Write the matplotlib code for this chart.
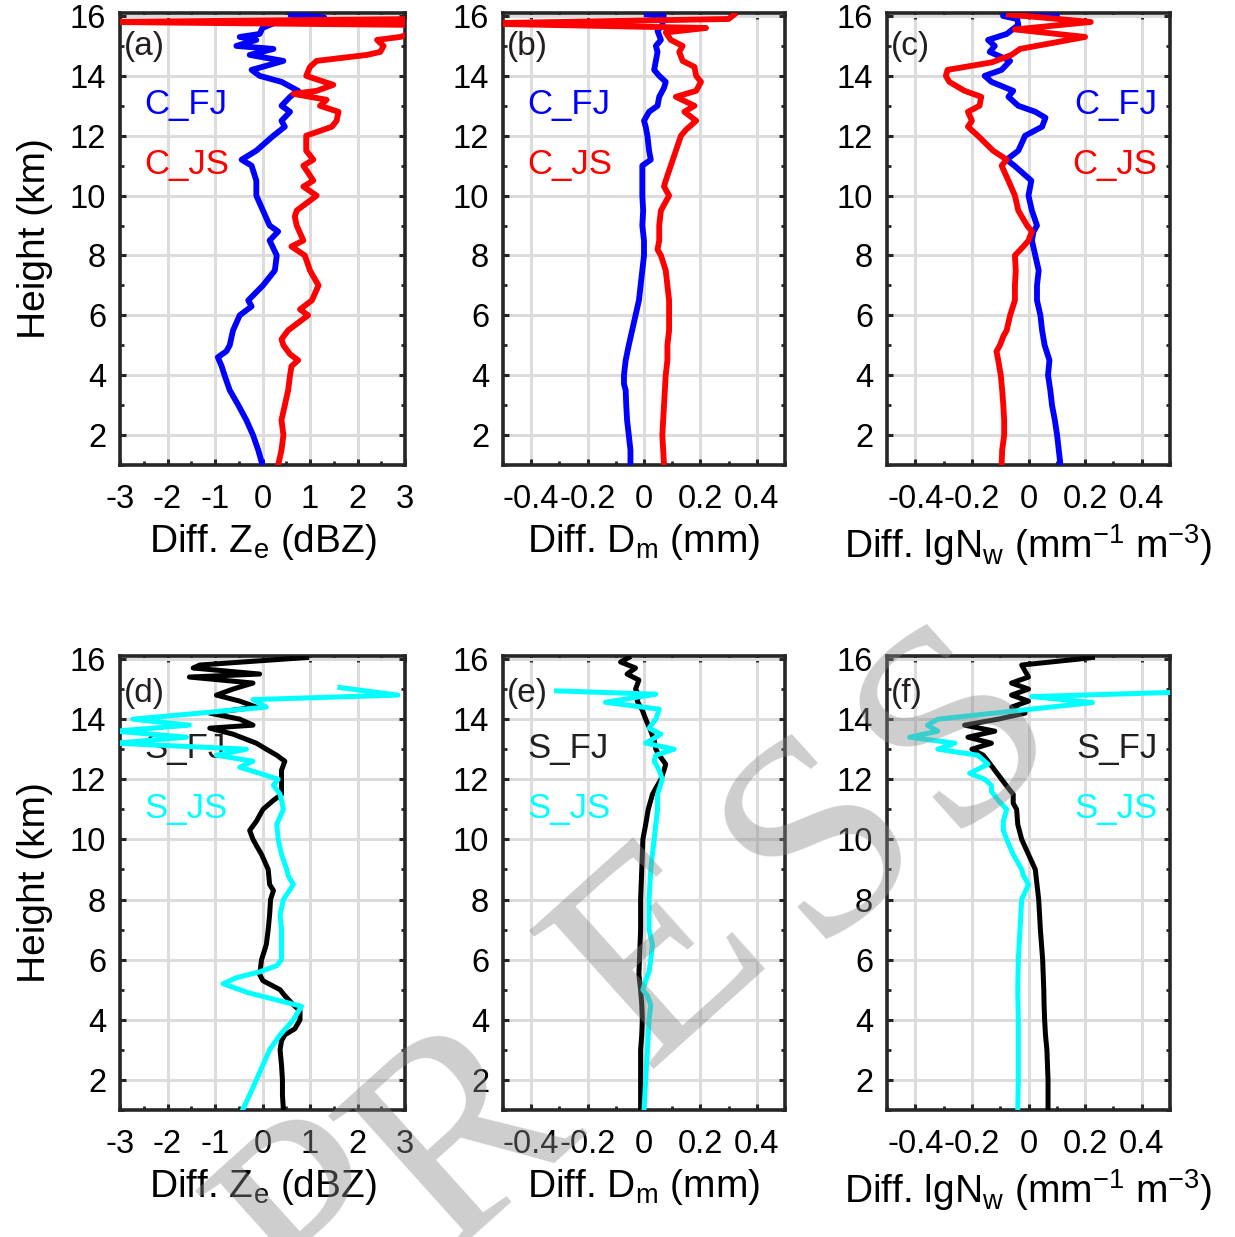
import numpy as np
import matplotlib
matplotlib.use('Agg')
import matplotlib.pyplot as plt
from matplotlib.ticker import MultipleLocator

plt.rcParams['font.family'] = ['Liberation Sans', 'DejaVu Sans']
plt.rcParams['axes.unicode_minus'] = False
plt.rcParams['mathtext.default'] = 'regular'

# ---- data: height (km) and difference profiles ----
# (a) Ze, convective
ze_cfj_h = [1.0, 1.5, 2.0, 2.5, 3.0, 3.5, 4.0, 4.3, 4.6, 4.8, 5.0, 5.5, 6.0, 6.3, 6.5, 7.0, 7.5, 8.0, 8.5, 8.8,
            9.0, 9.5, 10.0, 10.5, 11.0, 11.2, 11.5, 12.0, 12.3, 12.5, 12.8, 13.0, 13.3, 13.5, 13.8, 14.0, 14.2, 14.3, 14.5, 14.7,
            14.9, 15.0, 15.2, 15.3, 15.4, 15.6, 15.8, 15.95, 16.05]
ze_cfj = [0.0, -0.09, -0.2, -0.34, -0.51, -0.69, -0.8, -0.86, -0.94, -0.76, -0.69, -0.62, -0.48, -0.23, -0.3, 0.01, 0.26, 0.3, 0.15, 0.33,
          0.15, 0.01, -0.13, -0.13, -0.23, -0.44, -0.13, 0.23, 0.47, 0.4, 0.58, 0.4, 0.58, 0.75, 0.4, -0.06, -0.23, 0.0, 0.44, -0.27,
          0.23, -0.55, -0.13, -0.48, -0.06, 0.0, 0.3, 1.3, 0.6]
ze_cjs_h = [1.0, 1.5, 2.0, 2.5, 3.0, 3.5, 4.0, 4.3, 4.5, 4.7, 5.0, 5.2, 5.5, 6.0, 6.2, 6.5, 7.0, 7.3, 7.5, 8.0,
            8.3, 8.5, 9.0, 9.3, 9.5, 10.0, 10.3, 10.5, 11.0, 11.2, 11.5, 12.0, 12.3, 12.5, 12.8, 13.0, 13.2, 13.4, 13.5, 13.7,
            14.0, 14.3, 14.5, 14.7, 14.8, 15.0, 15.2, 15.3, 15.5, 15.7, 15.8, 15.9, 16.0]
ze_cjs = [0.33, 0.4, 0.44, 0.4, 0.47, 0.54, 0.58, 0.61, 0.75, 0.58, 0.44, 0.4, 0.54, 0.96, 0.79, 1.04, 1.18, 1.07, 1.0, 0.89,
          0.61, 0.86, 0.72, 0.68, 0.72, 1.14, 0.86, 1.07, 0.86, 1.07, 0.92, 0.92, 1.46, 1.56, 1.6, 1.21, 1.35, 0.65, 1.14, 1.49,
          0.92, 1.0, 1.14, 2.2, 2.48, 2.55, 2.41, 2.9, 3.3, 3.3, -3.3, 3.3, 3.3]

# (b) Dm, convective
dm_cfj_h = [1.0, 1.5, 2.0, 2.5, 3.0, 3.5, 3.7, 4.0, 4.5, 5.0, 5.5, 6.0, 6.5, 7.0, 7.5, 8.0, 8.5, 9.0, 9.5, 10.0,
            10.5, 11.0, 11.2, 11.5, 12.0, 12.3, 12.5, 12.8, 13.0, 13.3, 13.6, 13.8, 14.0, 14.2, 14.5, 14.8, 15.0, 15.2, 15.5, 15.7,
            16.0, 16.05]
dm_cfj = [-0.048, -0.048, -0.054, -0.06, -0.063, -0.065, -0.071, -0.071, -0.065, -0.054, -0.042, -0.03, -0.018, -0.012, -0.006, 0.0, 0.0, -0.006, -0.003, -0.006,
          -0.006, -0.006, 0.024, 0.018, 0.012, 0.006, 0.0, 0.018, 0.048, 0.054, 0.071, 0.077, 0.054, 0.036, 0.042, 0.048, 0.042, 0.06, 0.048, 0.065,
          0.07, 0.01]
dm_cjs_h = [1.0, 1.5, 2.0, 3.0, 4.0, 4.5, 5.0, 5.5, 6.0, 6.5, 7.0, 7.5, 8.0, 8.2, 8.5, 9.0, 9.5, 10.0, 10.3, 10.5,
            11.0, 11.5, 12.0, 12.2, 12.5, 12.8, 13.0, 13.3, 13.5, 13.8, 14.0, 14.3, 14.5, 14.8, 15.0, 15.2, 15.45, 15.6, 15.75, 15.9,
            16.05]
dm_cjs = [0.071, 0.068, 0.065, 0.071, 0.077, 0.083, 0.083, 0.089, 0.089, 0.089, 0.083, 0.077, 0.06, 0.048, 0.054, 0.054, 0.06, 0.089, 0.071, 0.077,
          0.095, 0.113, 0.131, 0.149, 0.185, 0.143, 0.179, 0.113, 0.185, 0.202, 0.185, 0.179, 0.137, 0.125, 0.137, 0.095, 0.077, 0.22, -0.6, 0.3,
          0.32]

# (c) lgNw, convective
nw_cfj_h = [1.0, 1.5, 2.0, 2.5, 3.0, 3.5, 4.0, 4.5, 5.0, 5.5, 6.0, 6.5, 7.0, 7.5, 8.0, 8.5, 8.8, 9.0, 9.5, 10.0,
            10.5, 11.0, 11.2, 11.5, 12.0, 12.3, 12.6, 12.8, 13.0, 13.3, 13.5, 13.8, 14.0, 14.2, 14.5, 14.8, 15.0, 15.2, 15.4, 15.7,
            15.9, 16.0, 16.05]
nw_cfj = [0.113, 0.107, 0.101, 0.093, 0.083, 0.077, 0.069, 0.074, 0.057, 0.048, 0.042, 0.03, 0.03, 0.036, 0.024, 0.012, 0.018, 0.03, 0.012, 0.0,
          0.01, -0.05, -0.077, -0.036, -0.012, 0.048, 0.06, 0.024, -0.036, -0.071, -0.054, -0.131, -0.155, -0.095, -0.065, -0.137, -0.119, -0.143, -0.077, -0.036,
          -0.04, -0.09, 0.1]
nw_cjs_h = [1.0, 1.5, 2.0, 2.5, 3.0, 3.5, 4.0, 4.5, 4.8, 5.0, 5.3, 5.5, 6.0, 6.5, 7.0, 7.5, 8.0, 8.3, 8.5, 8.8,
            9.0, 9.5, 10.0, 10.5, 11.0, 11.2, 11.5, 12.0, 12.3, 12.5, 12.8, 13.0, 13.3, 13.5, 13.8, 14.0, 14.2, 14.45, 14.7, 14.9,
            15.3, 15.55, 15.8, 16.05]
nw_cjs = [-0.095, -0.093, -0.086, -0.086, -0.089, -0.093, -0.098, -0.107, -0.113, -0.101, -0.089, -0.077, -0.065, -0.048, -0.048, -0.045, -0.048, -0.018, 0.0, 0.012,
          -0.005, -0.036, -0.048, -0.071, -0.095, -0.077, -0.125, -0.179, -0.214, -0.2, -0.214, -0.173, -0.167, -0.226, -0.28, -0.292, -0.286, -0.13, -0.06, -0.03,
          0.2, -0.048, 0.22, -0.07]

# (d) Ze, stratiform
ze_sfj_h = [1.0, 1.5, 2.0, 2.5, 3.0, 3.3, 3.5, 3.7, 4.0, 4.3, 4.5, 4.8, 5.0, 5.3, 5.5, 6.0, 6.5, 7.0, 7.5, 8.0,
            8.3, 8.5, 9.0, 9.5, 9.8, 10.0, 10.3, 10.6, 11.0, 11.3, 11.5, 12.0, 12.3, 12.6, 12.8, 13.0, 13.2, 13.5, 13.7, 13.8,
            14.0, 14.2, 14.4, 14.6, 14.8, 15.0, 15.2, 15.4, 15.5, 15.7, 15.8, 16.05]
ze_sfj = [0.44, 0.42, 0.42, 0.4, 0.37, 0.4, 0.47, 0.68, 0.79, 0.79, 0.65, 0.47, 0.37, 0.01, -0.06, -0.02, 0.08, 0.12, 0.15, 0.17,
          0.23, 0.15, 0.12, -0.02, -0.13, -0.2, -0.27, -0.13, 0.01, 0.23, 0.4, 0.4, 0.4, 0.47, 0.3, 0.08, -0.13, -0.62, -1.11, -0.2,
          -0.48, -1.11, -0.13, -0.48, -0.97, -0.62, -0.2, -1.54, -0.06, -1.46, -1.32, 0.93]
ze_sjs_h = [1.0, 1.5, 2.0, 2.5, 3.0, 3.5, 4.0, 4.45, 4.9, 5.2, 5.4, 5.6, 5.8, 6.0, 6.5, 7.0, 7.5, 8.0, 8.5, 8.8,
            9.0, 9.5, 10.0, 10.5, 11.0, 11.3, 11.5, 11.8, 12.0, 12.2, 12.4, 12.6, 12.8, 13.0, 13.2, 13.4, 13.6, 13.8, 14.0, 14.2,
            14.4, 14.65, 14.8, 15.05]
ze_sjs = [-0.42, -0.27, -0.13, 0.01, 0.15, 0.37, 0.65, 0.82, -0.3, -0.83, -0.55, -0.05, 0.3, 0.4, 0.4, 0.4, 0.37, 0.44, 0.65, 0.54,
          0.51, 0.4, 0.33, 0.3, 0.44, 0.4, 0.37, 0.23, 0.33, -0.06, -0.48, -0.2, -0.97, -0.34, -3.1, -1.6, -3.1, -1.54, -2.73, -1.32,
          0.08, -0.2, 2.85, 1.63]

# (e) Dm, stratiform
dm_sfj_h = [1.0, 2.0, 3.0, 3.5, 4.0, 4.5, 5.0, 5.5, 6.0, 7.0, 8.0, 9.0, 9.5, 10.0, 10.5, 11.0, 11.5, 11.8, 12.0, 12.3,
            12.5, 12.8, 13.0, 13.3, 13.6, 14.0, 14.3, 14.6, 14.8, 15.0, 15.3, 15.5, 15.7, 15.9, 16.05]
dm_sfj = [-0.012, -0.012, -0.012, -0.008, -0.006, -0.008, -0.012, -0.018, -0.016, -0.012, -0.012, -0.008, -0.006, -0.004, 0.006, 0.015, 0.03, 0.048, 0.06, 0.071,
          0.077, 0.054, 0.042, 0.036, 0.024, 0.006, -0.006, -0.024, -0.018, -0.03, -0.018, -0.06, -0.03, -0.083, -0.054]
dm_sjs_h = [1.0, 2.0, 3.0, 4.0, 4.5, 4.8, 5.0, 5.3, 5.6, 6.0, 6.5, 7.0, 8.0, 9.0, 10.0, 10.5, 11.0, 11.5, 12.0, 12.3,
            12.6, 12.8, 13.0, 13.2, 13.5, 13.7, 14.0, 14.33, 14.56, 14.83, 14.94]
dm_sjs = [0.0, 0.006, 0.012, 0.018, 0.024, 0.012, -0.004, 0.006, 0.018, 0.024, 0.03, 0.018, 0.018, 0.024, 0.036, 0.042, 0.048, 0.048, 0.065, 0.054,
          0.036, 0.042, 0.107, 0.006, 0.06, 0.018, 0.042, 0.054, -0.137, 0.042, -0.31]

# (f) lgNw, stratiform
nw_sfj_h = [1.0, 1.5, 2.0, 3.0, 3.5, 4.0, 4.5, 5.0, 6.0, 7.0, 8.0, 8.5, 9.0, 9.5, 10.0, 10.5, 11.0, 11.2, 11.5, 11.7,
            12.0, 12.3, 12.6, 12.8, 13.0, 13.2, 13.4, 13.6, 13.8, 14.0, 14.2, 14.4, 14.6, 14.8, 15.0, 15.2, 15.4, 15.6, 15.8, 16.0,
            16.05]
nw_sfj = [0.069, 0.069, 0.069, 0.065, 0.06, 0.057, 0.055, 0.054, 0.05, 0.042, 0.036, 0.03, 0.024, 0.0, -0.024, -0.038, -0.042, -0.054, -0.054, -0.071,
          -0.095, -0.119, -0.143, -0.16, -0.2, -0.131, -0.214, -0.119, -0.226, -0.107, -0.012, -0.06, 0.0, -0.06, 0.0, -0.06, 0.0, -0.012, -0.024, 0.18,
          0.226]
nw_sjs_h = [1.0, 2.0, 3.0, 4.0, 5.0, 6.0, 7.0, 8.0, 8.5, 8.8, 9.0, 9.5, 10.0, 10.3, 10.6, 11.0, 11.3, 11.6, 11.8, 12.0,
            12.2, 12.5, 12.8, 13.0, 13.2, 13.4, 13.6, 13.8, 14.0, 14.55, 14.75, 14.9]
nw_sjs = [-0.038, -0.036, -0.036, -0.036, -0.038, -0.036, -0.03, -0.024, 0.0, -0.018, -0.024, -0.054, -0.077, -0.089, -0.089, -0.077, -0.107, -0.131, -0.131, -0.155,
          -0.208, -0.143, -0.179, -0.32, -0.26, -0.42, -0.32, -0.357, -0.32, 0.226, 0.012, 0.55]

panel_tags = ['(a)', '(b)', '(c)', '(d)', '(e)', '(f)']
xlabels = [r'Diff. Z$_{e}$ (dBZ)', r'Diff. D$_{m}$ (mm)', r'Diff. lgN$_{w}$ (mm$^{-1}$ m$^{-3}$)']
height_ticks = [2, 4, 6, 8, 10, 12, 14, 16]
ze_ticks = [-3, -2, -1, 0, 1, 2, 3]
small_ticks = [-0.4, -0.2, 0, 0.2, 0.4]
small_ticklabels = ['-0.4', '-0.2', '0', '0.2', '0.4']

W, H = 1235, 1237
fig = plt.figure(figsize=(W / 100, H / 100), dpi=100)

col_left = [120, 503, 887]
col_width = [285, 282, 283]
row_top = [13, 656]
row_bottom = [465, 1110]

panels = [
    (ze_cfj_h, ze_cfj, ze_cjs_h, ze_cjs, 'C'),
    (dm_cfj_h, dm_cfj, dm_cjs_h, dm_cjs, 'C'),
    (nw_cfj_h, nw_cfj, nw_cjs_h, nw_cjs, 'C'),
    (ze_sfj_h, ze_sfj, ze_sjs_h, ze_sjs, 'S'),
    (dm_sfj_h, dm_sfj, dm_sjs_h, dm_sjs, 'S'),
    (nw_sfj_h, nw_sfj, nw_sjs_h, nw_sjs, 'S'),
]

dark = '#231f20'
for i, (h1, v1, h2, v2, kind) in enumerate(panels):
    r, c = divmod(i, 3)
    left = col_left[c] / W
    bottom = 1 - row_bottom[r] / H
    ax = fig.add_axes([left, bottom, col_width[c] / W, (row_bottom[r] - row_top[r]) / H])
    if kind == 'C':
        col1, col2, lw = '#0000ff', '#ff0000', 4.2
        name1, name2 = 'C_FJ', 'C_JS'
        tcol1, tcol2 = '#0000ff', '#ff0000'
    else:
        col1, col2, lw = '#000000', '#00ffff', 3.6
        name1, name2 = 'S_FJ', 'S_JS'
        tcol1, tcol2 = dark, '#00ffff'
    ax.plot(v1, h1, color=col1, lw=lw, zorder=3, solid_joinstyle='round')
    ax.plot(v2, h2, color=col2, lw=lw, zorder=3, solid_joinstyle='round')

    ax.set_ylim(1, 16.1)
    ax.set_yticks(height_ticks)
    ax.yaxis.set_minor_locator(MultipleLocator(1))
    if c == 0:
        ax.set_xlim(-3, 3)
        ax.set_xticks(ze_ticks)
        ax.xaxis.set_minor_locator(MultipleLocator(0.5))
        ax.set_ylabel('Height (km)', fontsize=28, labelpad=12)
    else:
        ax.set_xlim(-0.5, 0.5)
        ax.set_xticks(small_ticks)
        ax.set_xticklabels(small_ticklabels)
        ax.xaxis.set_minor_locator(MultipleLocator(0.1))
    ax.set_xlabel(xlabels[c], fontsize=28, labelpad=5)

    ax.set_axisbelow(True)
    ax.grid(True, which='major', color='#dcdcdc', lw=2.2)
    for sp in ax.spines.values():
        sp.set_linewidth(2.6)
        sp.set_color('#262626')
    ax.tick_params(which='both', direction='in', top=True, right=True, color='#262626')
    ax.tick_params(which='major', length=4.5, width=2.2, labelsize=23.5)
    ax.tick_params(which='minor', length=2.8, width=2.0)
    ax.tick_params(axis='x', which='major', pad=14)
    ax.tick_params(axis='y', which='major', pad=10)

    ax.text(0.015, 0.925 if r == 0 else 0.918, panel_tags[i], transform=ax.transAxes,
            fontsize=24, color=dark, ha='left', va='center', zorder=1)
    if c == 2:
        tx, ha = 0.955, 'right'
    else:
        tx, ha = 0.085, 'left'
    ax.text(tx, 0.797, name1, transform=ax.transAxes, fontsize=25, color=tcol1,
            ha=ha, va='center', zorder=1)
    ax.text(tx, 0.664, name2, transform=ax.transAxes, fontsize=25, color=tcol2,
            ha=ha, va='center', zorder=1)

# faint diagonal watermark letters over the lower row
wm_letters = ['P', 'R', 'E', 'S', 'S']
wm_x = [325, 470, 665, 825, 960]
wm_y = [1225, 1140, 960, 840, 730]
for ch, x, y in zip(wm_letters, wm_x, wm_y):
    fig.text(x / W, 1 - y / H, ch, rotation=42, rotation_mode='anchor',
             ha='center', va='center', fontsize=205, family='Liberation Serif',
             color='#8a8a8a', alpha=0.42, zorder=10)

plt.savefig('out.png', dpi=100)
plt.close()
